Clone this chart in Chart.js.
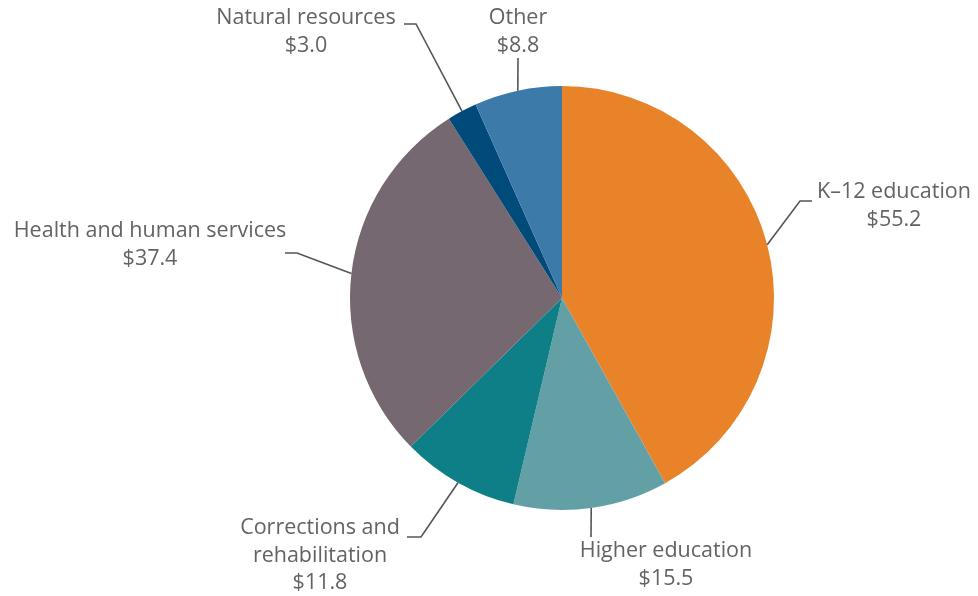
<!DOCTYPE html>
<html>
<head>
<meta charset="utf-8">
<script src="https://cdn.jsdelivr.net/npm/chart.js@4"></script>
<style>
    html, body { margin: 0; padding: 0; background: #fff; }
    #wrap { width: 978px; height: 596px; }
</style>
</head>
<body>
<div id="wrap"><canvas id="budget-chart"></canvas></div>
<script>
const categories = [
    ["K–12 education"],
    ["Higher education"],
    ["Corrections and", "rehabilitation"],
    ["Health and human services"],
    ["Natural resources"],
    ["Other"]
];
const amounts = [55.2, 15.5, 11.8, 37.4, 3.0, 8.8];
const sliceColors = ["#E8832A", "#62A0A6", "#0E7F86", "#766870", "#004B7A", "#3C7AAA"];

// where each label sits: elbow point, tail end, text centre and first baseline row
const labelSpots = [
    { elbow: [800, 201], tail: [812, 201], text: [894, 192] },
    { elbow: [591, 537], tail: null, text: [666, 551] },
    { elbow: [421, 537], tail: [407, 537], text: [320, 528] },
    { elbow: [297, 253], tail: [285, 253], text: [150, 231] },
    { elbow: [416, 24], tail: [404, 24], text: [306, 18] },
    { elbow: [518, 58], tail: null, text: [518, 18] }
];

const pieLabels = {
    id: "pieLabels",
    afterDraw(chart) {
        const ctx = chart.ctx;
        const arcs = chart.getDatasetMeta(0).data;
        ctx.save();
        ctx.font = "21.5px 'Open Sans', Lato, sans-serif";
        ctx.fillStyle = "#636363";
        ctx.strokeStyle = "#555555";
        ctx.lineWidth = 1.6;
        ctx.textAlign = "center";
        ctx.textBaseline = "middle";
        arcs.forEach((arc, i) => {
            const p = arc.getProps(["x", "y", "startAngle", "endAngle", "outerRadius"], true);
            const mid = (p.startAngle + p.endAngle) / 2;
            const ex = p.x + Math.cos(mid) * p.outerRadius;
            const ey = p.y + Math.sin(mid) * p.outerRadius;
            const spot = labelSpots[i];
            ctx.beginPath();
            ctx.moveTo(ex, ey);
            ctx.lineTo(spot.elbow[0], spot.elbow[1]);
            if (spot.tail) ctx.lineTo(spot.tail[0], spot.tail[1]);
            ctx.stroke();
            const lines = categories[i].concat(["$" + amounts[i].toFixed(1)]);
            lines.forEach((t, j) => {
                ctx.fillText(t, spot.text[0], spot.text[1] + j * 27.5);
            });
        });
        ctx.restore();
    }
};

new Chart(document.getElementById("budget-chart").getContext("2d"), {
    type: "pie",
    data: {
        labels: categories.map(c => c.join(" ")),
        datasets: [
            {
                data: amounts,
                backgroundColor: sliceColors,
                borderWidth: 0
            }
        ]
    },
    options: {
        responsive: true,
        maintainAspectRatio: false,
        animation: false,
        layout: {
            padding: { top: 86, bottom: 86, left: 200, right: 54 }
        },
        plugins: {
            legend: { display: false },
            tooltip: { enabled: false }
        }
    },
    plugins: [pieLabels]
});
</script>
</body>
</html>
